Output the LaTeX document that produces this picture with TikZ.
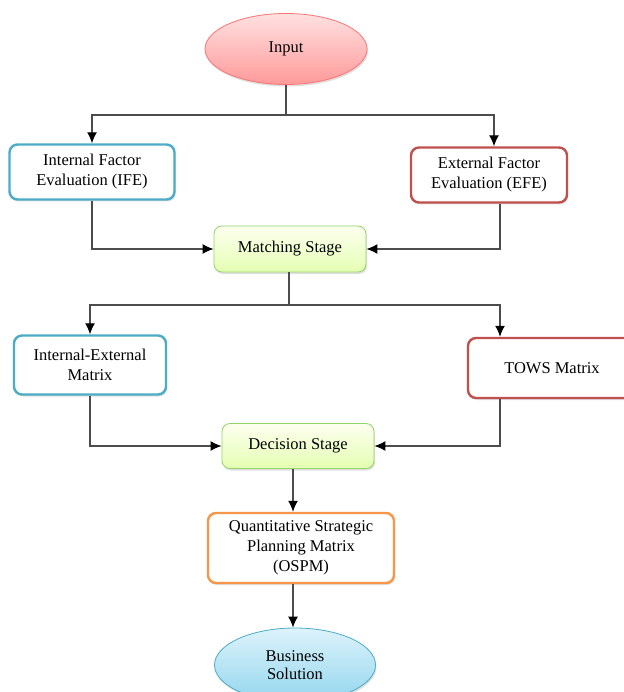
\documentclass[tikz,border=0pt]{standalone}
\usepackage{fontspec}
\setmainfont{Liberation Serif}
\usetikzlibrary{shapes.geometric,shadows,arrows.meta}

\definecolor{ifeblue}{HTML}{4BACC6}
\definecolor{efered}{HTML}{C0504D}
\definecolor{qorange}{HTML}{F79646}
\definecolor{bstop}{HTML}{DDF3FB}
\definecolor{bsbot}{HTML}{93D6EE}

\begin{document}
\begin{tikzpicture}[x=1pt, y=-1pt, >={Latex[length=11pt,width=10pt,color=black]},
    box/.style = {draw, rounded corners=8pt, fill=white, line width=2.4pt, align=center,
        font=\fontsize{16.5}{20}\selectfont, inner sep=0pt,
        drop shadow={opacity=0.25, shadow xshift=1pt, shadow yshift=-2pt}},
    stage/.style = {box, line width=0.8pt, draw=green!45!olive!60, top color=green!8!yellow!6, bottom color=green!35!yellow!30},
    oval/.style = {draw, ellipse, line width=0.8pt, align=center, inner sep=0pt,
        font=\fontsize{16.5}{18}\selectfont,
        drop shadow={opacity=0.25, shadow xshift=1pt, shadow yshift=-2pt}},
    link/.style = {draw=black!70, line width=1.3pt}]
    \useasboundingbox (0,0) rectangle (623,692);

    \node[oval, draw=red!55!white, top color=red!12, bottom color=red!40,
        minimum width=162, minimum height=71] (in) at (286,49) {Input};
    \node[box, draw=ifeblue, minimum width=165, minimum height=55] (ife) at (92,172) {Internal Factor\\Evaluation (IFE)};
    \node[box, draw=efered, minimum width=156, minimum height=55] (efe) at (489,175) {External Factor\\Evaluation (EFE)};
    \node[stage, minimum width=152, minimum height=46] (match) at (290,249) {Matching Stage};
    \node[box, draw=ifeblue, minimum width=152, minimum height=59] (ie) at (90,365) {Internal-External\\Matrix};
    \node[box, draw=efered, minimum width=168, minimum height=60] (tows) at (552,368) {TOWS Matrix};
    \node[stage, minimum width=152, minimum height=45] (dec) at (298,446) {Decision Stage};
    \node[box, draw=qorange, minimum width=186, minimum height=70] (qspm) at (301,548) {Quantitative Strategic\\Planning Matrix\\(OSPM)};
    \node[oval, draw=ifeblue, top color=bstop, bottom color=bsbot,
        minimum width=161, minimum height=74] (bs) at (295,665) {Business\\Solution};

    % input splits to the two evaluations
    \coordinate (s1) at (286,115);
    \path[link] (in) -- (s1);
    \path[link, ->] (s1) -| (ife.north);
    \path[link, ->] (s1) -| ([xshift=5]efe.north);

    \path[link, ->] (ife.south) |- (match.west);
    \path[link, ->] ([xshift=11]efe.south) |- (match.east);

    % matching splits again
    \coordinate (s2) at (289,305);
    \path[link] (match.south -| s2) -- (s2);
    \path[link, ->] (s2) -| (ie.north);
    \path[link, ->] (s2) -| ([xshift=-52]tows.north);

    \path[link, ->] (ie.south) |- (dec.west);
    \path[link, ->] ([xshift=-52]tows.south) |- (dec.east);

    \path[link, ->] ([xshift=-5]dec.south) -- ([xshift=-5]dec.south |- qspm.north);
    \path[link, ->] ([xshift=-8]qspm.south) -- ([xshift=-8]qspm.south |- bs.north);
\end{tikzpicture}
\end{document}
